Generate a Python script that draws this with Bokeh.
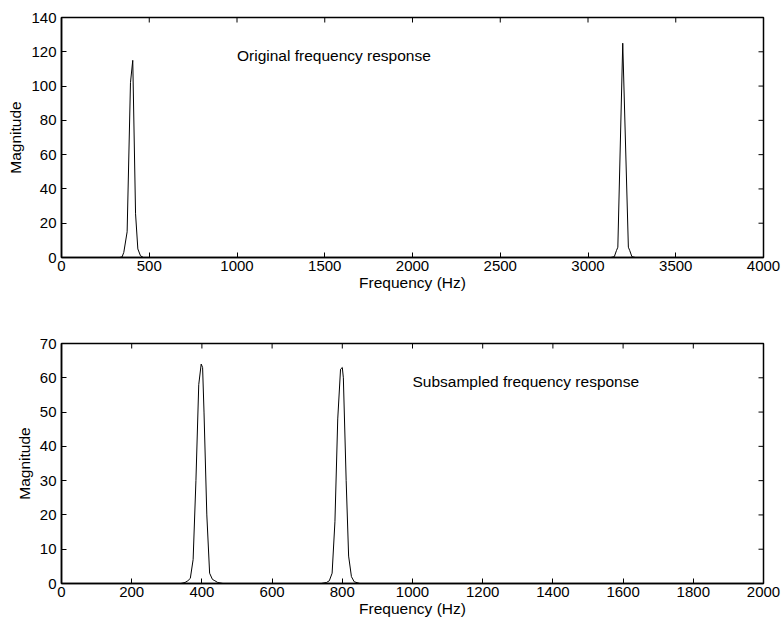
import math
from bokeh.plotting import figure
from bokeh.layouts import column
from bokeh.models import Range1d, FixedTicker, Label
from bokeh.embed import file_html
from bokeh.resources import INLINE

# ---- data ----
freq_orig = [0, 330, 345, 355, 374, 393, 406, 422, 435, 450, 467,
             3130, 3150, 3162, 3170, 3198, 3230, 3238, 3250, 3270, 4000]
mag_orig = [0, 0, 0.3, 3, 15, 102, 115, 25.5, 5, 1, 0,
            0, 0.5, 4, 6, 125, 6, 4, 0.5, 0, 0]

freq_sub = [0, 340, 352, 360, 367, 375, 383, 391, 398, 402, 406, 414, 422, 430, 437, 445, 460,
            740, 755, 763, 771, 779, 787, 795, 800, 803, 811, 818, 826, 834, 850, 2000]
mag_sub = [0, 0, 0.3, 0.8, 1.5, 7, 30, 58, 64, 63, 50, 20, 3, 1.2, 0.8, 0.3, 0,
           0, 0.3, 0.8, 3, 18, 48, 62.5, 63, 60, 30, 8, 2, 0.5, 0, 0]

xticks_orig = list(range(0, 4001, 500))
yticks_orig = list(range(0, 141, 20))
xticks_sub = list(range(0, 2001, 200))
yticks_sub = list(range(0, 71, 10))

FONT = "Liberation Sans"
TICK_FS = "15px"
LABEL_FS = "15.5px"


def make_fig(xs, ys, xr, yr, xt, yt, height, top, bottom,
             label_text, lx, ly):
    p = figure(width=782, height=height, output_backend="svg", toolbar_location=None,
               x_range=Range1d(*xr), y_range=Range1d(*yr),
               min_border_left=61, min_border_right=19,
               min_border_top=top, min_border_bottom=bottom)
    p.xgrid.visible = False
    p.ygrid.visible = False
    p.outline_line_color = "black"
    p.outline_line_width = 1.5
    p.background_fill_color = "white"
    p.border_fill_color = "white"

    p.xaxis.ticker = FixedTicker(ticks=xt)
    p.yaxis.ticker = FixedTicker(ticks=yt)
    p.xaxis.axis_label = "Frequency (Hz)"
    p.yaxis.axis_label = "Magnitude"
    for ax in (p.xaxis[0], p.yaxis[0]):
        ax.major_tick_in = 5
        ax.major_tick_out = 0
        ax.minor_tick_in = 0
        ax.minor_tick_out = 0
        ax.axis_line_color = "black"
        ax.axis_line_width = 1.5
        ax.major_tick_line_color = "black"
        ax.major_label_text_font = FONT
        ax.major_label_text_font_size = TICK_FS
        ax.major_label_text_color = "black"
        ax.axis_label_text_font = FONT
        ax.axis_label_text_font_size = LABEL_FS
        ax.axis_label_text_font_style = "normal"
        ax.axis_label_text_color = "black"
    p.xaxis.major_label_standoff = 3
    p.xaxis.axis_label_standoff = 0
    p.yaxis.major_label_standoff = 5
    p.yaxis.axis_label_standoff = 4

    # mirrored inward ticks on the top and right edges (box on)
    p.ray(x=xt, y=[yr[1]] * len(xt), length=5, length_units="screen",
          angle=-math.pi / 2, line_color="black", line_width=1)
    p.ray(x=[xr[1]] * len(yt), y=yt, length=5, length_units="screen",
          angle=math.pi, line_color="black", line_width=1)

    p.line(xs, ys, line_color="black", line_width=1)
    p.add_layout(Label(x=lx, y=ly, text=label_text, text_font=FONT, text_font_size=LABEL_FS,
                       text_color="black", text_baseline="middle", text_align="left"))
    return p


p1 = make_fig(freq_orig, mag_orig, (0, 4000), (0, 140), xticks_orig, yticks_orig,
              300, 17, 43, "Original frequency response", 1000, 118)
p2 = make_fig(freq_sub, mag_sub, (0, 2000), (0, 70), xticks_sub, yticks_sub,
              322, 43, 39, "Subsampled frequency response", 1000, 59)

layout = column(p1, p2, spacing=0)
open("out.html", "w").write(file_html(layout, INLINE))
